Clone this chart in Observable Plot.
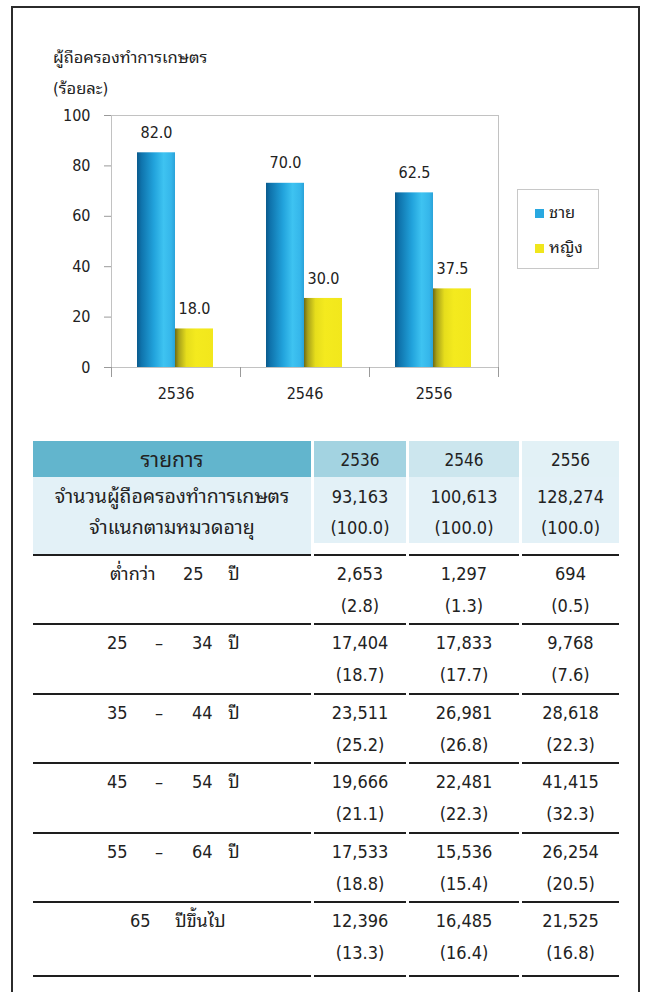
<!DOCTYPE html>
<html><head><meta charset="utf-8">
<script src="https://cdn.jsdelivr.net/npm/d3@7"></script>
<script src="https://cdn.jsdelivr.net/npm/@observablehq/plot@0.6"></script>
<style>
html,body{margin:0;padding:0;background:#fff;width:649px;height:992px;overflow:hidden;}
body{position:relative;font-family:Tahoma,"DejaVu Sans Condensed","Noto Sans Thai Looped","Noto Sans Thai",Loma,Garuda,"DejaVu Sans",sans-serif;color:#222;}
#frame{position:absolute;left:11px;top:6px;width:629px;height:1010px;border:2px solid #2b2b2b;box-sizing:border-box;}
.abs{position:absolute;white-space:nowrap;}
#chart{position:absolute;left:0;top:100px;}
#chart svg [aria-label="y-axis tick"]{stroke:#9a9a9a;}
#legend{position:absolute;left:517px;top:189px;width:82px;height:80px;border:1px solid #c8c8c8;box-sizing:border-box;}
</style></head>
<body>
<div id="frame"></div>
<div class="abs" style="left:53px;top:47px;font-size:16.5px;line-height:22px;" id="t1"></div>
<div class="abs" style="left:53px;top:78px;font-size:16.5px;line-height:22px;" id="t2"></div>
<div id="chart"></div>
<div id="legend"></div>
<div id="table"></div>
<script>
// ---------- data ----------
const titleLines = ["ผู้ถือครองทำการเกษตร", "(ร้อยละ)"];
const years = ["2536", "2546", "2556"];
const seriesNames = ["ชาย", "หญิง"];
const maleBar = [85.2, 73.1, 69.3];     // bar heights as drawn
const femaleBar = [15.3, 27.4, 31.2];
const maleLabel = ["82.0", "70.0", "62.5"]; // printed labels
const femaleLabel = ["18.0", "30.0", "37.5"];
const yTicks = [0, 20, 40, 60, 80, 100];

const tableHeader = ["รายการ", "2536", "2546", "2556"];
const totalLabel = ["จำนวนผู้ถือครองทำการเกษตร", "จำแนกตามหมวดอายุ"];
const totals = ["93,163", "100,613", "128,274"];
const totalPct = ["(100.0)", "(100.0)", "(100.0)"];
const ageParts = [
  ["ต่ำกว่า", "25", "ปี"],
  ["25", "–", "34", "ปี"],
  ["35", "–", "44", "ปี"],
  ["45", "–", "54", "ปี"],
  ["55", "–", "64", "ปี"],
  ["65", "ปีขึ้นไป"]
];
const count2536 = ["2,653", "17,404", "23,511", "19,666", "17,533", "12,396"];
const count2546 = ["1,297", "17,833", "26,981", "22,481", "15,536", "16,485"];
const count2556 = ["694", "9,768", "28,618", "41,415", "26,254", "21,525"];
const pct2536 = ["(2.8)", "(18.7)", "(25.2)", "(21.1)", "(18.8)", "(13.3)"];
const pct2546 = ["(1.3)", "(17.7)", "(26.8)", "(22.3)", "(15.4)", "(16.4)"];
const pct2556 = ["(0.5)", "(7.6)", "(22.3)", "(32.3)", "(20.5)", "(16.8)"];

// ---------- titles ----------
document.getElementById("t1").textContent = titleLines[0];
document.getElementById("t2").textContent = titleLines[1];

// ---------- chart ----------
const W = 520, H = 300, mL = 111, mR = 22, mT = 15, mB = 33;
const bw = (W - mL - mR) / years.length;
const barW = 38, outer = 26;
const rows = years.map((y, i) => ({year: y, male: maleBar[i], female: femaleBar[i], ml: maleLabel[i], fl: femaleLabel[i]}));
const font = 'Tahoma,"DejaVu Sans Condensed","DejaVu Sans",sans-serif';

const chart = Plot.plot({
  width: W, height: H,
  marginLeft: mL, marginRight: mR, marginTop: mT, marginBottom: mB,
  style: {fontFamily: font, fontSize: "16px", color: "#222", background: "transparent", overflow: "visible"},
  x: {domain: years, padding: 0, label: null, tickSize: 0, tickPadding: 20},
  y: {domain: [0, 100], ticks: yTicks, label: null, tickSize: 7, tickPadding: 14},
  marks: [
    Plot.barY(rows, {x: "year", y: "male", fill: "url(#gBlue)", insetLeft: outer, insetRight: bw - outer - barW}),
    Plot.barY(rows, {x: "year", y: "female", fill: "url(#gYellow)", insetLeft: outer + barW, insetRight: bw - outer - 2 * barW}),
    Plot.frame({stroke: "#c2c2c2"}),
    Plot.ruleX(rows, {x: "year", dx: -bw / 2, y1: 0, y2: 0, insetBottom: -10, stroke: "#9a9a9a"}),
    Plot.ruleX(rows.slice(-1), {x: "year", dx: bw / 2, y1: 0, y2: 0, insetBottom: -10, stroke: "#9a9a9a"}),
    Plot.text(rows, {x: "year", y: "male", text: "ml", dx: outer + barW / 2 - bw / 2, dy: -20, fill: "#222", fontSize: 16}),
    Plot.text(rows, {x: "year", y: "female", text: "fl", dx: outer + 1.5 * barW - bw / 2, dy: -20, fill: "#222", fontSize: 16})
  ]
});
const defs = d3.select(chart).insert("defs", ":first-child");
const gb = defs.append("linearGradient").attr("id", "gBlue").attr("x1", 0).attr("x2", 1).attr("y1", 0).attr("y2", 0);
[[0, "#0a5a8c"], [0.12, "#0f74ad"], [0.45, "#22a3dc"], [0.7, "#3ec3f1"], [0.9, "#35b6ea"], [1, "#2aa2d8"]]
  .forEach(([o, c]) => gb.append("stop").attr("offset", o).attr("stop-color", c));
const gy = defs.append("linearGradient").attr("id", "gYellow").attr("x1", 0).attr("x2", 1).attr("y1", 0).attr("y2", 0);
[[0, "#6e6a14"], [0.1, "#a8a21a"], [0.3, "#e6dd1c"], [0.55, "#f4ea1e"], [1, "#f2e71c"]]
  .forEach(([o, c]) => gy.append("stop").attr("offset", o).attr("stop-color", c));
d3.select(chart).selectAll('[aria-label="y-axis tick"]').attr("stroke", "#9a9a9a");
document.getElementById("chart").appendChild(chart);

// ---------- legend ----------
const legend = document.getElementById("legend");
const legendColors = ["#29a8e0", "#f0e61c"];
seriesNames.forEach((name, i) => {
  const top = 19 + i * 35;
  const sw = document.createElement("div");
  Object.assign(sw.style, {position: "absolute", left: "17px", top: top + "px", width: "9px", height: "9px", background: legendColors[i]});
  legend.appendChild(sw);
  const tx = document.createElement("div");
  tx.className = "abs";
  Object.assign(tx.style, {left: "31px", top: (top - 7) + "px", fontSize: "16.5px", lineHeight: "22px"});
  tx.textContent = name;
  legend.appendChild(tx);
});

// ---------- table ----------
const table = document.getElementById("table");
function box(style, text) {
  const d = document.createElement("div");
  d.className = "abs";
  Object.assign(d.style, style);
  if (text != null) d.textContent = text;
  table.appendChild(d);
  return d;
}
const cols = [{x: 33, w: 278}, {x: 314, w: 92}, {x: 409, w: 110}, {x: 522, w: 97}];
const headBg = ["#62b5cd", "#a3d3e1", "#cce6ee", "#e2f1f6"];
const bodyBg = "#e3f1f7";
function centered(col, cy, text, size) {
  box({left: col.x + "px", top: (cy - 14) + "px", width: col.w + "px", height: "28px", lineHeight: "28px", textAlign: "center", fontSize: size + "px"}, text);
}
// header
cols.forEach((c, i) => {
  box({left: c.x + "px", top: "441px", width: c.w + "px", height: "36px", background: headBg[i]});
  centered(c, 460, tableHeader[i], i === 0 ? 21 : 17);
});
// totals row
box({left: cols[0].x + "px", top: "477px", width: cols[0].w + "px", height: "77px", background: bodyBg});
cols.slice(1).forEach(c => box({left: c.x + "px", top: "477px", width: c.w + "px", height: "66px", background: bodyBg}));
centered(cols[0], 497, totalLabel[0], 19.5);
centered(cols[0], 528, totalLabel[1], 19.5);
[totals, totalPct].forEach((arr, r) => arr.forEach((v, j) => centered(cols[j + 1], r ? 528 : 497, v, 18)));
// rule lines
const firstLine = 554, rowH = 69.4, lastRowH = 74;
const lineYs = [firstLine];
ageParts.forEach((_, i) => lineYs.push(lineYs[i] + (i === ageParts.length - 1 ? lastRowH : rowH)));
lineYs.forEach(y => cols.forEach(c => box({left: c.x + "px", top: y + "px", width: c.w + "px", height: "2px", background: "#1e1e1e"})));
// age rows
const counts = [count2536, count2546, count2556];
const pcts = [pct2536, pct2546, pct2556];
const partOffsets = {3: [77, 150, 195], 4: [74, 122, 159, 195], 2: [97, 142]};
ageParts.forEach((parts, i) => {
  const top = lineYs[i];
  const offs = partOffsets[parts.length];
  parts.forEach((p, k) => box({left: (cols[0].x + offs[k]) + "px", top: (top + 6) + "px", height: "28px", lineHeight: "28px", fontSize: "18px"}, p));
  counts.forEach((arr, j) => centered(cols[j + 1], top + 20, arr[i], 18));
  pcts.forEach((arr, j) => centered(cols[j + 1], top + 52, arr[i], 18));
});
</script>
</body></html>
